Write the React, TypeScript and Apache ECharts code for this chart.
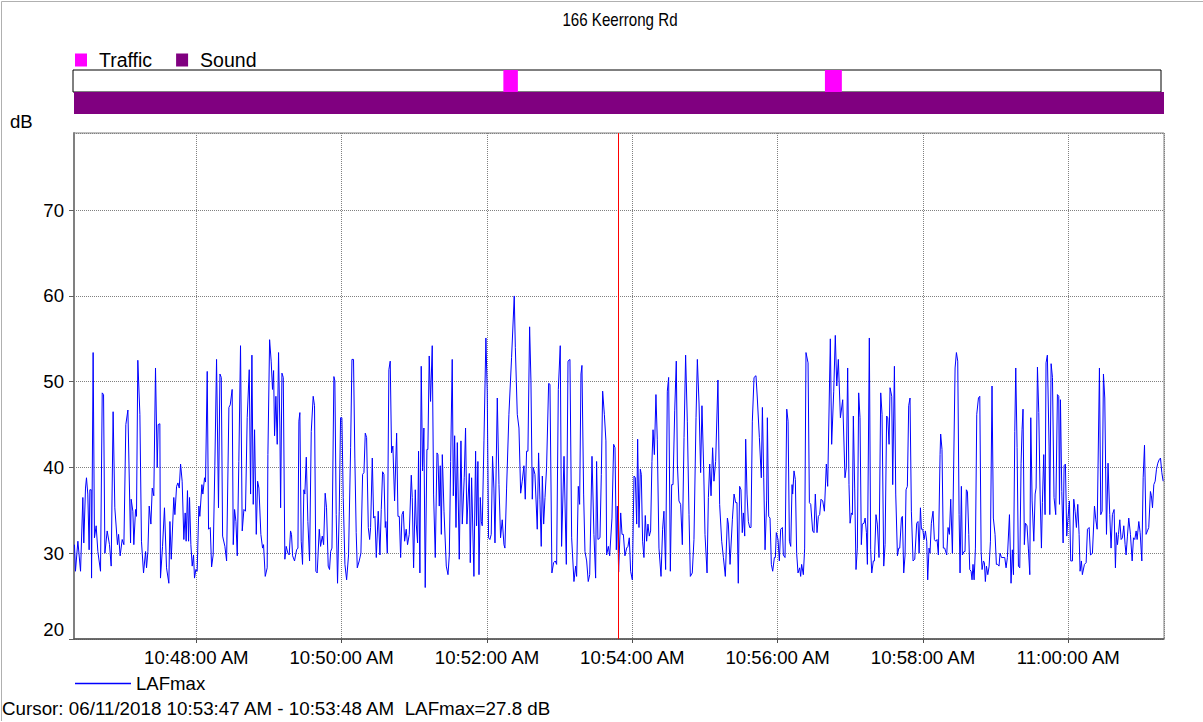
import React, { useEffect, useRef } from 'react';
import * as echarts from 'echarts';

const TITLE = '166 Keerrong Rd';
const START_MIN = 10 * 60 + 46 + 19 / 60; // 10:46:19, minutes since midnight
const SPAN_SEC = 900;
const CURSOR_SEC = 449.8;
const CURSOR_TEXT = 'Cursor: 06/11/2018 10:53:47 AM - 10:53:48 AM  LAFmax=27.8 dB';
const Y_MIN = 20;
const Y_MAX = 79;
const Y_STEP = 10;
const X_STEP_MIN = 2;
const TRAFFIC: [number, number][] = [[356, 368], [622, 636]];
const SOUND: [number, number][] = [[0, 900]];

// [seconds from START, LAFmax dB]
const LAF: [number, number][] = [
  [0.4,31.0],[1.2,27.9],[3.2,31.4],[5.4,27.9],[7.3,36.5],[8.1,31.2],[9.5,37.6],[10.3,38.8],[11.4,36.9],[12.5,30.4],[13.1,37.4],[14.2,37.4],[14.5,27.1],[15.8,53.4],[16.9,31.8],[18.3,33.2],[19.7,30.2],[21.9,27.9],[23.3,48.7],[24.4,48.5],[25.5,30.0],[27.4,32.6],[29.3,31.0],[30.7,28.5],[32.3,46.5],[33.7,35.3],[35.9,31.0],[36.8,32.2],[38.1,29.7],[39.8,31.6],[41.2,31.0],[42.8,45.0],[44.5,46.7],[46.7,31.2],[47.2,36.3],[48.6,34.9],[49.4,31.0],[50.8,35.1],[51.6,34.3],[52.7,52.5],[54.4,46.2],[55.7,31.4],[57.4,27.7],[59.1,30.2],[59.9,28.3],[61.0,30.2],[62.1,35.5],[63.5,33.4],[64.6,37.6],[65.9,36.7],[67.3,51.6],[68.7,40.0],[69.5,45.0],[70.9,45.1],[71.4,27.1],[73.1,30.8],[74.7,35.3],[76.4,28.3],[78.3,26.5],[79.2,33.7],[80.3,29.3],[82.4,36.5],[83.3,34.5],[84.7,37.8],[85.8,38.2],[86.9,37.6],
  [88.0,40.4],[89.3,38.4],[90.7,31.6],[91.8,34.7],[92.6,31.4],[93.7,37.3],[94.6,31.4],[95.4,36.5],[96.5,31.0],[97.6,28.5],[98.7,29.8],[99.5,27.1],[100.6,28.1],[101.7,27.9],[103.1,35.5],[103.9,34.3],[105.6,38.0],[106.4,36.9],[107.8,38.8],[108.6,38.3],[110.0,51.2],[111.1,32.8],[112.5,33.0],[113.6,28.4],[114.9,29.8],[116.3,40.2],[117.7,52.6],[119.3,35.3],[120.5,50.9],[121.6,50.5],[122.7,32.0],[124.6,30.8],[126.0,29.1],[127.9,47.0],[129.0,47.3],[130.6,49.1],[131.5,31.0],[132.6,35.1],[133.7,33.7],[134.8,29.7],[136.1,40.7],[137.5,54.2],[138.9,32.6],[140.3,35.1],[141.6,34.9],[143.0,45.8],[144.7,51.4],[145.8,36.9],[146.9,53.1],[148.0,35.7],[149.1,44.4],[150.5,32.2],[151.6,38.4],[152.7,37.6],[154.3,32.2],[155.7,30.6],[156.5,31.0],[157.9,27.3],[159.5,28.3],[160.1,41.5],[161.5,54.9],[162.8,52.4],[163.9,49.1],[164.8,51.3],[165.6,43.7],[166.7,48.3],[167.8,42.7],[168.9,53.4],[170.0,44.6],[170.6,35.3],[171.7,51.0],[172.8,50.5],[174.1,29.3],[175.2,30.8],[176.6,30.0],[177.7,29.8],
  [178.8,32.6],[179.6,32.2],[180.5,29.7],[182.1,29.1],[183.8,30.4],[184.9,30.6],[185.7,45.4],[186.5,46.4],[187.6,31.4],[188.7,28.7],[189.8,37.4],[190.6,36.9],[191.8,41.2],[193.1,33.7],[194.5,29.1],[195.9,44.2],[197.5,48.3],[198.6,47.2],[199.7,27.9],[200.8,27.7],[202.5,32.8],[203.6,30.8],[205.0,32.0],[206.1,31.0],[207.4,37.0],[208.5,35.3],[209.9,28.5],[211.0,28.1],[211.9,30.2],[213.0,30.6],[214.6,50.6],[215.4,50.1],[216.5,34.5],[217.6,26.5],[219.0,34.9],[220.1,45.8],[221.2,45.8],[222.3,36.5],[223.7,28.7],[225.1,26.9],[226.7,29.8],[228.4,42.3],[229.5,52.6],[230.8,52.6],[231.9,41.1],[233.0,32.4],[233.9,28.3],[235.5,29.1],[236.9,30.0],[238.3,39.2],[239.4,39.4],[240.5,44.0],[241.6,43.5],[243.0,33.0],[244.1,31.6],[244.9,33.0],[246.3,41.1],[247.4,34.1],[248.5,34.3],[249.6,29.5],[251.2,34.9],[252.6,29.8],[253.7,35.1],[254.8,39.5],[255.9,39.2],[257.0,33.0],[257.5,33.7],[258.7,30.0],[260.0,51.4],[261.1,52.4],[262.2,41.7],[263.3,42.5],[264.7,36.1],[266.4,44.0],[267.5,34.3],[268.6,34.3],
  [269.7,29.5],[270.8,34.5],[271.9,34.9],[273.0,31.4],[274.3,32.8],[275.4,31.0],[276.8,32.2],[278.5,39.1],[279.3,36.5],[280.4,28.3],[281.8,37.4],[282.6,33.4],[283.7,31.2],[284.5,41.9],[285.6,27.7],[286.7,51.8],[287.8,39.6],[288.9,44.6],[290.0,26.0],[291.4,42.1],[292.2,42.1],[293.3,53.0],[294.4,47.7],[295.8,54.2],[296.9,36.9],[298.3,29.5],[299.7,41.7],[300.5,41.5],[301.6,35.5],[302.4,40.2],[303.3,32.2],[304.1,41.5],[305.5,34.9],[307.4,28.5],[308.8,27.5],[309.9,29.8],[311.0,40.7],[312.3,52.6],[313.2,36.7],[314.3,43.7],[315.4,33.0],[316.5,42.9],[318.1,29.3],[319.5,43.1],[320.6,33.4],[322.2,38.8],[323.3,44.6],[324.4,33.4],[326.4,39.3],[327.2,28.9],[328.3,38.8],[330.2,27.3],[331.6,41.9],[332.4,33.2],[333.5,40.7],[334.4,27.5],[335.5,36.5],[336.3,33.7],[337.1,33.2],[338.5,43.1],[340.1,55.1],[341.2,48.9],[342.3,31.8],[343.4,31.6],[344.5,32.2],[345.6,41.3],[346.7,37.6],[347.6,31.2],[349.5,48.1],[350.9,38.0],[352.2,31.8],[353.6,33.9],[355.0,31.0],[355.8,30.6],[357.2,37.6],[359.1,46.2],
  [361.3,52.8],[363.5,60.0],[364.4,54.0],[366.0,46.2],[367.4,44.6],[368.8,37.0],[370.1,38.4],[371.5,40.2],[372.6,36.3],[373.7,41.9],[374.8,41.9],[376.2,56.4],[377.3,50.1],[378.4,36.3],[379.2,40.0],[380.6,39.2],[382.5,32.8],[383.6,41.7],[384.7,36.3],[385.8,30.8],[386.7,39.0],[387.8,33.4],[388.9,36.5],[390.2,40.0],[391.9,49.8],[393.0,49.7],[394.6,27.7],[396.0,28.9],[397.4,29.1],[398.5,28.7],[399.9,49.1],[401.5,54.2],[402.6,30.8],[404.6,41.3],[406.5,28.7],[407.9,52.4],[409.5,52.6],[410.9,31.8],[412.8,26.7],[414.2,28.5],[415.0,27.3],[416.4,37.8],[417.5,35.7],[418.6,50.9],[419.4,51.9],[420.8,36.9],[421.9,30.2],[423.3,29.1],[424.6,26.7],[425.8,27.5],[427.7,41.3],[429.3,32.2],[430.7,27.1],[431.5,40.7],[432.6,31.6],[434.3,31.8],[435.4,39.2],[436.5,48.9],[437.9,46.2],[439.2,43.1],[439.8,29.8],[441.2,30.8],[442.3,29.7],[444.2,34.1],[445.6,42.7],[446.7,42.3],[447.8,30.4],[448.6,35.5],[449.7,27.8],
  [451.4,34.7],[452.5,32.2],[453.6,32.2],[454.9,29.7],[456.3,30.6],[457.4,30.8],[458.5,31.8],[459.6,27.9],[461.0,26.9],[462.4,39.0],[463.5,38.8],[464.6,33.4],[465.4,43.3],[466.5,33.0],[467.6,39.8],[468.4,39.2],[469.5,31.4],[470.6,29.5],[471.7,34.4],[472.8,31.4],[473.9,33.4],[475.0,32.0],[476.1,32.6],[477.2,40.7],[478.1,44.4],[479.2,41.5],[480.5,48.5],[481.6,43.3],[483.0,30.6],[484.7,27.3],[486.0,32.8],[487.1,34.9],[488.5,28.1],[489.9,48.9],[491.0,50.5],[492.4,27.9],[493.5,38.0],[494.6,38.0],[496.0,46.6],[497.3,52.4],[498.2,40.4],[499.5,36.1],[500.9,35.7],[502.3,31.0],[503.7,43.5],[505.0,53.1],[506.4,45.4],[507.8,34.5],[508.9,27.3],[510.5,27.7],[511.9,31.6],[513.6,45.8],[514.7,52.6],[516.1,47.4],[517.4,39.4],[518.5,47.2],[519.9,40.0],[521.0,32.2],[522.7,27.7],[523.8,36.5],[524.9,40.4],[526.0,36.7],[527.3,42.3],[528.4,38.4],[529.8,40.7],[531.7,50.2],[533.1,35.7],[534.8,31.4],[536.2,29.5],[537.8,27.3],[539.5,34.1],[540.3,33.4],[541.7,28.7],
  [543.6,33.9],[545.0,36.9],[546.3,35.9],[547.4,35.9],[548.5,26.5],[549.6,37.8],[550.7,37.4],[551.8,32.4],[552.7,34.7],[553.8,32.0],[554.6,43.3],[555.7,36.9],[556.8,33.7],[557.9,33.0],[559.0,33.0],[560.1,45.4],[561.5,50.5],[563.1,50.7],[564.2,48.1],[565.9,43.5],[567.5,38.8],[568.4,47.0],[569.5,38.8],[570.6,30.4],[571.9,36.1],[572.5,45.8],[573.6,34.3],[574.7,34.1],[575.8,28.7],[576.9,27.9],[578.3,29.5],[579.1,29.5],[579.9,32.4],[581.3,31.6],[582.4,29.1],[583.5,32.8],[584.9,33.0],[585.7,29.8],[587.1,29.5],[588.5,46.8],[589.6,45.4],[590.7,31.4],[591.8,30.8],[592.9,38.0],[593.4,36.9],[594.5,39.6],[595.6,38.6],[596.7,30.0],[597.8,27.7],[599.2,28.3],[600.0,27.3],[600.8,28.7],[602.2,27.5],[603.3,30.6],[604.4,53.4],[606.1,52.2],[607.2,35.9],[608.3,35.7],[609.9,32.6],[611.0,32.4],[612.1,36.9],[613.5,32.4],[614.6,34.3],[615.7,34.5],[616.8,36.3],[618.2,36.1],[619.6,34.9],[621.2,40.4],[622.3,37.8],[624.5,55.0],[625.6,42.7],[627.3,48.9],[628.6,55.4],[629.8,49.5],[631.1,52.6],[632.8,45.8],
  [634.7,47.9],[636.6,38.8],[637.7,40.0],[638.8,51.6],[639.9,38.0],[640.8,33.5],[641.9,34.7],[642.7,34.5],[643.5,46.0],[644.6,37.6],[645.7,28.1],[646.8,30.6],[647.9,48.7],[649.0,45.8],[650.1,31.0],[650.9,33.4],[652.3,33.5],[653.2,34.1],[654.3,32.4],[655.1,28.7],[656.7,55.1],[657.8,30.4],[658.7,27.7],[660.0,29.1],[660.9,29.1],[662.2,34.5],[663.3,33.4],[664.7,29.5],[666.1,48.7],[667.2,46.2],[668.6,28.5],[669.7,31.0],[671.0,46.0],[671.9,45.8],[673.0,42.7],[673.8,49.3],[675.2,48.3],[676.0,38.0],[677.4,51.8],[678.5,36.9],[679.9,29.7],[681.0,30.6],[681.8,30.6],[683.2,34.1],[684.0,34.3],[685.1,27.7],[686.2,29.8],[687.0,37.4],[688.1,37.8],[689.2,47.2],[690.3,48.1],[691.4,34.9],[692.8,29.1],[694.2,29.3],[695.8,33.5],[696.9,33.7],[697.8,30.0],[698.9,35.3],[699.7,32.8],[700.8,32.8],[701.9,31.6],[703.0,32.6],[704.1,31.4],[704.9,26.9],[706.0,30.6],[706.8,30.0],[707.9,33.5],[709.3,34.9],[710.4,31.6],[711.5,31.4],[712.6,31.6],[713.7,29.8],[715.1,41.5],[715.6,43.9],[716.7,42.1],[717.8,30.6],[718.9,30.6],[720.6,29.8],[721.7,33.0],[722.8,32.2],
  [723.9,36.3],[725.3,30.0],[727.5,51.6],[728.6,53.4],[729.7,52.4],[730.8,34.5],[731.6,27.7],[732.7,37.8],[733.5,29.8],[734.9,30.2],[735.7,30.2],[736.8,37.4],[737.7,37.2],[738.8,32.2],[739.6,28.1],[740.7,27.9],[741.5,26.9],[742.3,28.7],[743.2,26.9],[744.3,30.6],[745.4,46.2],[746.8,48.1],[747.9,48.3],[749.0,30.2],[749.8,28.1],[750.9,29.1],[751.7,28.9],[752.5,26.7],[753.4,28.5],[754.5,27.5],[755.6,28.5],[756.7,31.4],[758.0,49.5],[759.1,34.1],[760.5,32.2],[761.6,28.7],[762.7,28.7],[763.8,28.5],[764.6,30.0],[765.8,29.5],[767.1,29.5],[768.5,29.5],[769.6,28.3],[770.7,29.5],[772.4,34.5],[773.7,26.5],[774.8,30.4],[775.7,27.5],[776.8,44.2],[777.6,51.6],[778.7,42.3],[779.8,28.5],[780.9,28.3],[782.0,40.5],[782.8,44.4],[783.6,46.8],[784.7,31.0],[785.6,33.5],[786.9,33.2],[788.0,30.6],[789.2,27.5],[790.0,45.8],[791.1,36.1],[792.5,31.4],[793.6,36.9],[794.4,37.6],[795.5,51.7],[796.6,46.4],[797.7,36.9],[798.8,30.6],[799.6,35.9],[800.7,41.5],[801.8,34.5],[802.6,52.2],[803.7,53.1],[805.1,42.5],[805.7,34.5],[806.8,52.1],[807.9,50.5],[809.2,36.5],
  [810.6,34.5],[812.0,48.5],[813.1,48.3],[813.7,35.7],[814.5,47.9],[815.6,37.2],[816.7,31.2],[817.5,40.2],[818.6,40.4],[819.7,32.0],[820.5,33.7],[821.9,36.1],[823.0,29.1],[824.4,29.1],[825.5,36.3],[826.6,34.9],[827.7,33.0],[828.8,35.7],[829.9,32.2],[830.7,27.9],[831.8,29.1],[832.6,27.5],[834.3,28.7],[835.7,28.9],[836.8,32.8],[838.2,33.0],[839.3,29.8],[840.9,30.0],[842.6,35.5],[843.7,33.9],[844.8,32.8],[846.7,51.6],[847.8,34.5],[848.9,34.9],[850.0,50.9],[851.1,48.1],[852.5,32.2],[853.8,40.5],[855.2,34.5],[856.3,30.6],[857.4,34.5],[858.8,35.1],[859.9,28.3],[860.7,32.4],[861.6,31.0],[862.4,32.2],[863.5,33.9],[864.6,31.6],[865.7,31.8],[866.8,33.2],[867.9,31.0],[868.7,29.8],[869.8,32.0],[870.9,34.1],[872.3,32.2],[873.7,29.1],[874.8,31.8],[875.9,31.6],[877.0,32.6],[877.8,31.6],[879.2,33.7],[880.3,32.4],[881.7,29.1],[882.8,38.8],[883.9,42.6],[885.2,32.2],[886.3,32.6],[887.4,33.0],[888.8,37.2],[889.6,36.7],[890.5,35.3],[891.6,38.0],[892.7,38.4],[893.8,39.8],[894.9,40.5],[896.0,40.9],[897.1,41.1],[898.2,39.4],[899.3,38.4],
];

const FONT = "'Liberation Sans', Arial, sans-serif";

function fmtMinutes(v: number): string {
  const tot = Math.round(v * 60);
  let h = Math.floor(tot / 3600);
  const m = Math.floor((tot % 3600) / 60);
  const s = tot % 60;
  const ap = h >= 12 ? 'PM' : 'AM';
  h = h % 12 || 12;
  return `${h}:${String(m).padStart(2, '0')}:${String(s).padStart(2, '0')} ${ap}`;
}

const toX = (s: number) => START_MIN + s / 60;

export default function App() {
  const ref = useRef<HTMLDivElement>(null);
  useEffect(() => {
    if (!ref.current) return;
    const chart = echarts.init(ref.current, undefined, { renderer: 'svg' });
    const xMin = START_MIN;
    const xMax = toX(SPAN_SEC);
    const bandRect = (color: string) => (params: any, api: any) => {
      const a = api.coord([api.value(0), 1]);
      const b = api.coord([api.value(1), 0]);
      return {
        type: 'rect',
        shape: { x: a[0], y: a[1], width: b[0] - a[0], height: b[1] - a[1] },
        style: { fill: color },
      };
    };
    const isTick = (v: number) => {
      const tot = Math.round(v * 60);
      return Math.abs(v * 60 - tot) < 0.01 && tot % (X_STEP_MIN * 60) === 0;
    };
    const option: any = {
      animation: false,
      backgroundColor: '#ffffff',
      textStyle: { fontFamily: FONT },
      grid: [
        { left: 74, top: 133, width: 1090, height: 506, show: true, borderColor: '#808080', borderWidth: 1 },
        { left: 73, top: 70, width: 1088, height: 22, show: true, borderColor: '#000000', borderWidth: 1, backgroundColor: '#ffffff' },
        { left: 74, top: 92, width: 1090, height: 22, show: false },
      ],
      xAxis: [
        {
          type: 'value', gridIndex: 0, min: xMin, max: xMax, scale: true,
          minInterval: X_STEP_MIN, maxInterval: X_STEP_MIN, splitNumber: 7,
          axisLine: { show: true, lineStyle: { color: '#505050', width: 1.5 } },
          axisTick: { show: true, length: 4, lineStyle: { color: '#505050' } },
          axisLabel: {
            show: true, showMinLabel: false, showMaxLabel: false, margin: 9,
            color: '#000', fontSize: 18.6, fontFamily: FONT, hideOverlap: false,
            formatter: (v: number) => (isTick(v) ? fmtMinutes(v) : ''),
          },
          splitLine: { show: true, lineStyle: { color: '#808080', type: 'dotted', width: 1 } },
        },
        { type: 'value', gridIndex: 1, min: xMin, max: xMax, show: false, splitLine: { show: false } },
        { type: 'value', gridIndex: 2, min: xMin, max: xMax, show: false, splitLine: { show: false } },
      ],
      yAxis: [
        {
          type: 'value', gridIndex: 0, min: Y_MIN, max: Y_MAX, interval: Y_STEP,
          axisLine: { show: true, lineStyle: { color: '#808080', width: 2 } },
          axisTick: { show: true, length: 5, lineStyle: { color: '#606060' } },
          axisLabel: {
            showMaxLabel: false, margin: 10, color: '#000', fontSize: 18.6, fontFamily: FONT,
            formatter: (v: number) => (v % Y_STEP !== 0 ? '' : v === Y_MIN ? `{lo|${v}}` : String(v)),
            rich: { lo: { fontSize: 18.6, fontFamily: FONT, color: '#000', padding: [0, 0, 20, 0] } },
          },
          splitLine: { show: true, lineStyle: { color: '#808080', type: 'dotted', width: 1 } },
        },
        { type: 'value', gridIndex: 1, min: 0, max: 1, show: false, splitLine: { show: false } },
        { type: 'value', gridIndex: 2, min: 0, max: 1, show: false, splitLine: { show: false } },
      ],
      legend: [
        {
          data: ['Traffic', 'Sound'], left: 75, top: 50, icon: 'rect', itemWidth: 12, itemHeight: 13,
          itemGap: 24, padding: 0, selectedMode: false,
          textStyle: { fontSize: 19.5, color: '#000', fontFamily: FONT, padding: [0, 0, 0, 7] },
        },
        {
          data: ['LAFmax'], left: 75, top: 674, icon: 'rect', itemWidth: 56, itemHeight: 1.5,
          padding: 0, selectedMode: false,
          textStyle: { fontSize: 18.6, color: '#000', fontFamily: FONT },
        },
      ],
      graphic: [
        {
          type: 'text', x: 620, y: 20, scaleX: 0.84, silent: true,
          style: { text: TITLE, fontSize: 18, fontFamily: FONT, fill: '#000', align: 'center', verticalAlign: 'middle', textAlign: 'center', textVerticalAlign: 'middle' },
        },
        {
          type: 'text', x: 10, y: 121, silent: true,
          style: { text: 'dB', fontSize: 18.6, fontFamily: FONT, fill: '#000', verticalAlign: 'middle', textVerticalAlign: 'middle' },
        },
        {
          type: 'text', x: 2, y: 708, silent: true,
          style: { text: CURSOR_TEXT, fontSize: 18.8, fontFamily: FONT, fill: '#000', verticalAlign: 'middle', textVerticalAlign: 'middle' },
        },
        {
          type: 'polyline', silent: true,
          shape: { points: [[1.5, 721], [1.5, 1.5], [1203, 1.5]] },
          style: { stroke: '#b0b0b0', lineWidth: 1, fill: 'none' },
        },
      ],
      series: [
        {
          name: 'LAFmax', type: 'line', xAxisIndex: 0, yAxisIndex: 0,
          data: LAF.map(([s, v]) => [toX(s), v]),
          showSymbol: false, symbol: 'none', color: '#0000ff',
          lineStyle: { color: '#0000ff', width: 1 },
          clip: true,
          markLine: {
            silent: true, symbol: ['none', 'none'], label: { show: false },
            lineStyle: { color: '#ff0000', width: 1, type: 'solid', opacity: 1 },
            emphasis: { disabled: true },
            data: [{ xAxis: toX(CURSOR_SEC), lineStyle: { color: '#ff0000', width: 1, type: 'solid' } }],
          },
        },
        {
          name: 'Traffic', type: 'custom', xAxisIndex: 1, yAxisIndex: 1,
          itemStyle: { color: '#ff00ff' }, clip: true,
          renderItem: bandRect('#ff00ff'),
          encode: { x: [0, 1] },
          data: TRAFFIC.map(([a, b]) => [toX(a), toX(b)]),
        },
        {
          name: 'Sound', type: 'custom', xAxisIndex: 2, yAxisIndex: 2,
          itemStyle: { color: '#800080' }, clip: true,
          renderItem: bandRect('#800080'),
          encode: { x: [0, 1] },
          data: SOUND.map(([a, b]) => [toX(a), toX(b)]),
        },
      ],
    };
    chart.setOption(option);
    return () => chart.dispose();
  }, []);
  return (
    <div
      ref={ref}
      style={{ position: 'absolute', left: 0, top: 0, width: 1203, height: 722, background: '#fff' }}
    />
  );
}
